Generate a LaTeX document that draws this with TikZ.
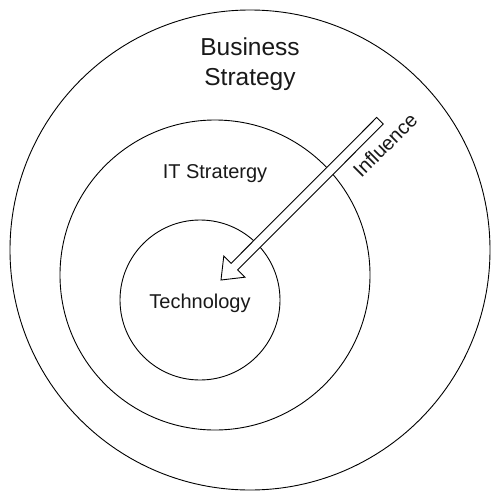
\documentclass[tikz,border=0pt]{standalone}
\usepackage{fontspec}
\setmainfont{Liberation Sans}
\begin{document}
\begin{tikzpicture}[x=1pt,y=-1pt,
  ring/.style={circle,draw=black,line width=0.9pt,inner sep=0pt},
  lbl/.style={inner sep=0pt,text=black!90},
  bigfont/.style={font=\fontsize{24.5}{30}\selectfont,align=center},
  midfont/.style={font=\fontsize{20}{24}\selectfont}]
\useasboundingbox[fill=white] (0,0) rectangle (501,501);
\node[ring,minimum size=480pt] (outer) at (250,250) {};
\node[ring,minimum size=310pt] (middle) at (215,275) {};
\node[ring,minimum size=160pt] (inner) at (200,300) {};
\node[lbl,bigfont,anchor=base] (bs) at (250,85) {Business\\Strategy};
\node[lbl,midfont,anchor=base] (it) at (215,178) {IT Stratergy};
\node[lbl,midfont,anchor=base] (tech) at (200,308) {Technology};
\node[lbl,midfont,rotate=45] (infl) at (385,145) {Influence};
\draw[line width=0.9pt,fill=white,line join=miter]
  (376.7,117.4) -- (383.3,124.0) -- (237.7,269.9) -- (245.0,277.2)
  -- (221,280) -- (223.8,256.0) -- (231.1,263.3) -- cycle;
\end{tikzpicture}
\end{document}
